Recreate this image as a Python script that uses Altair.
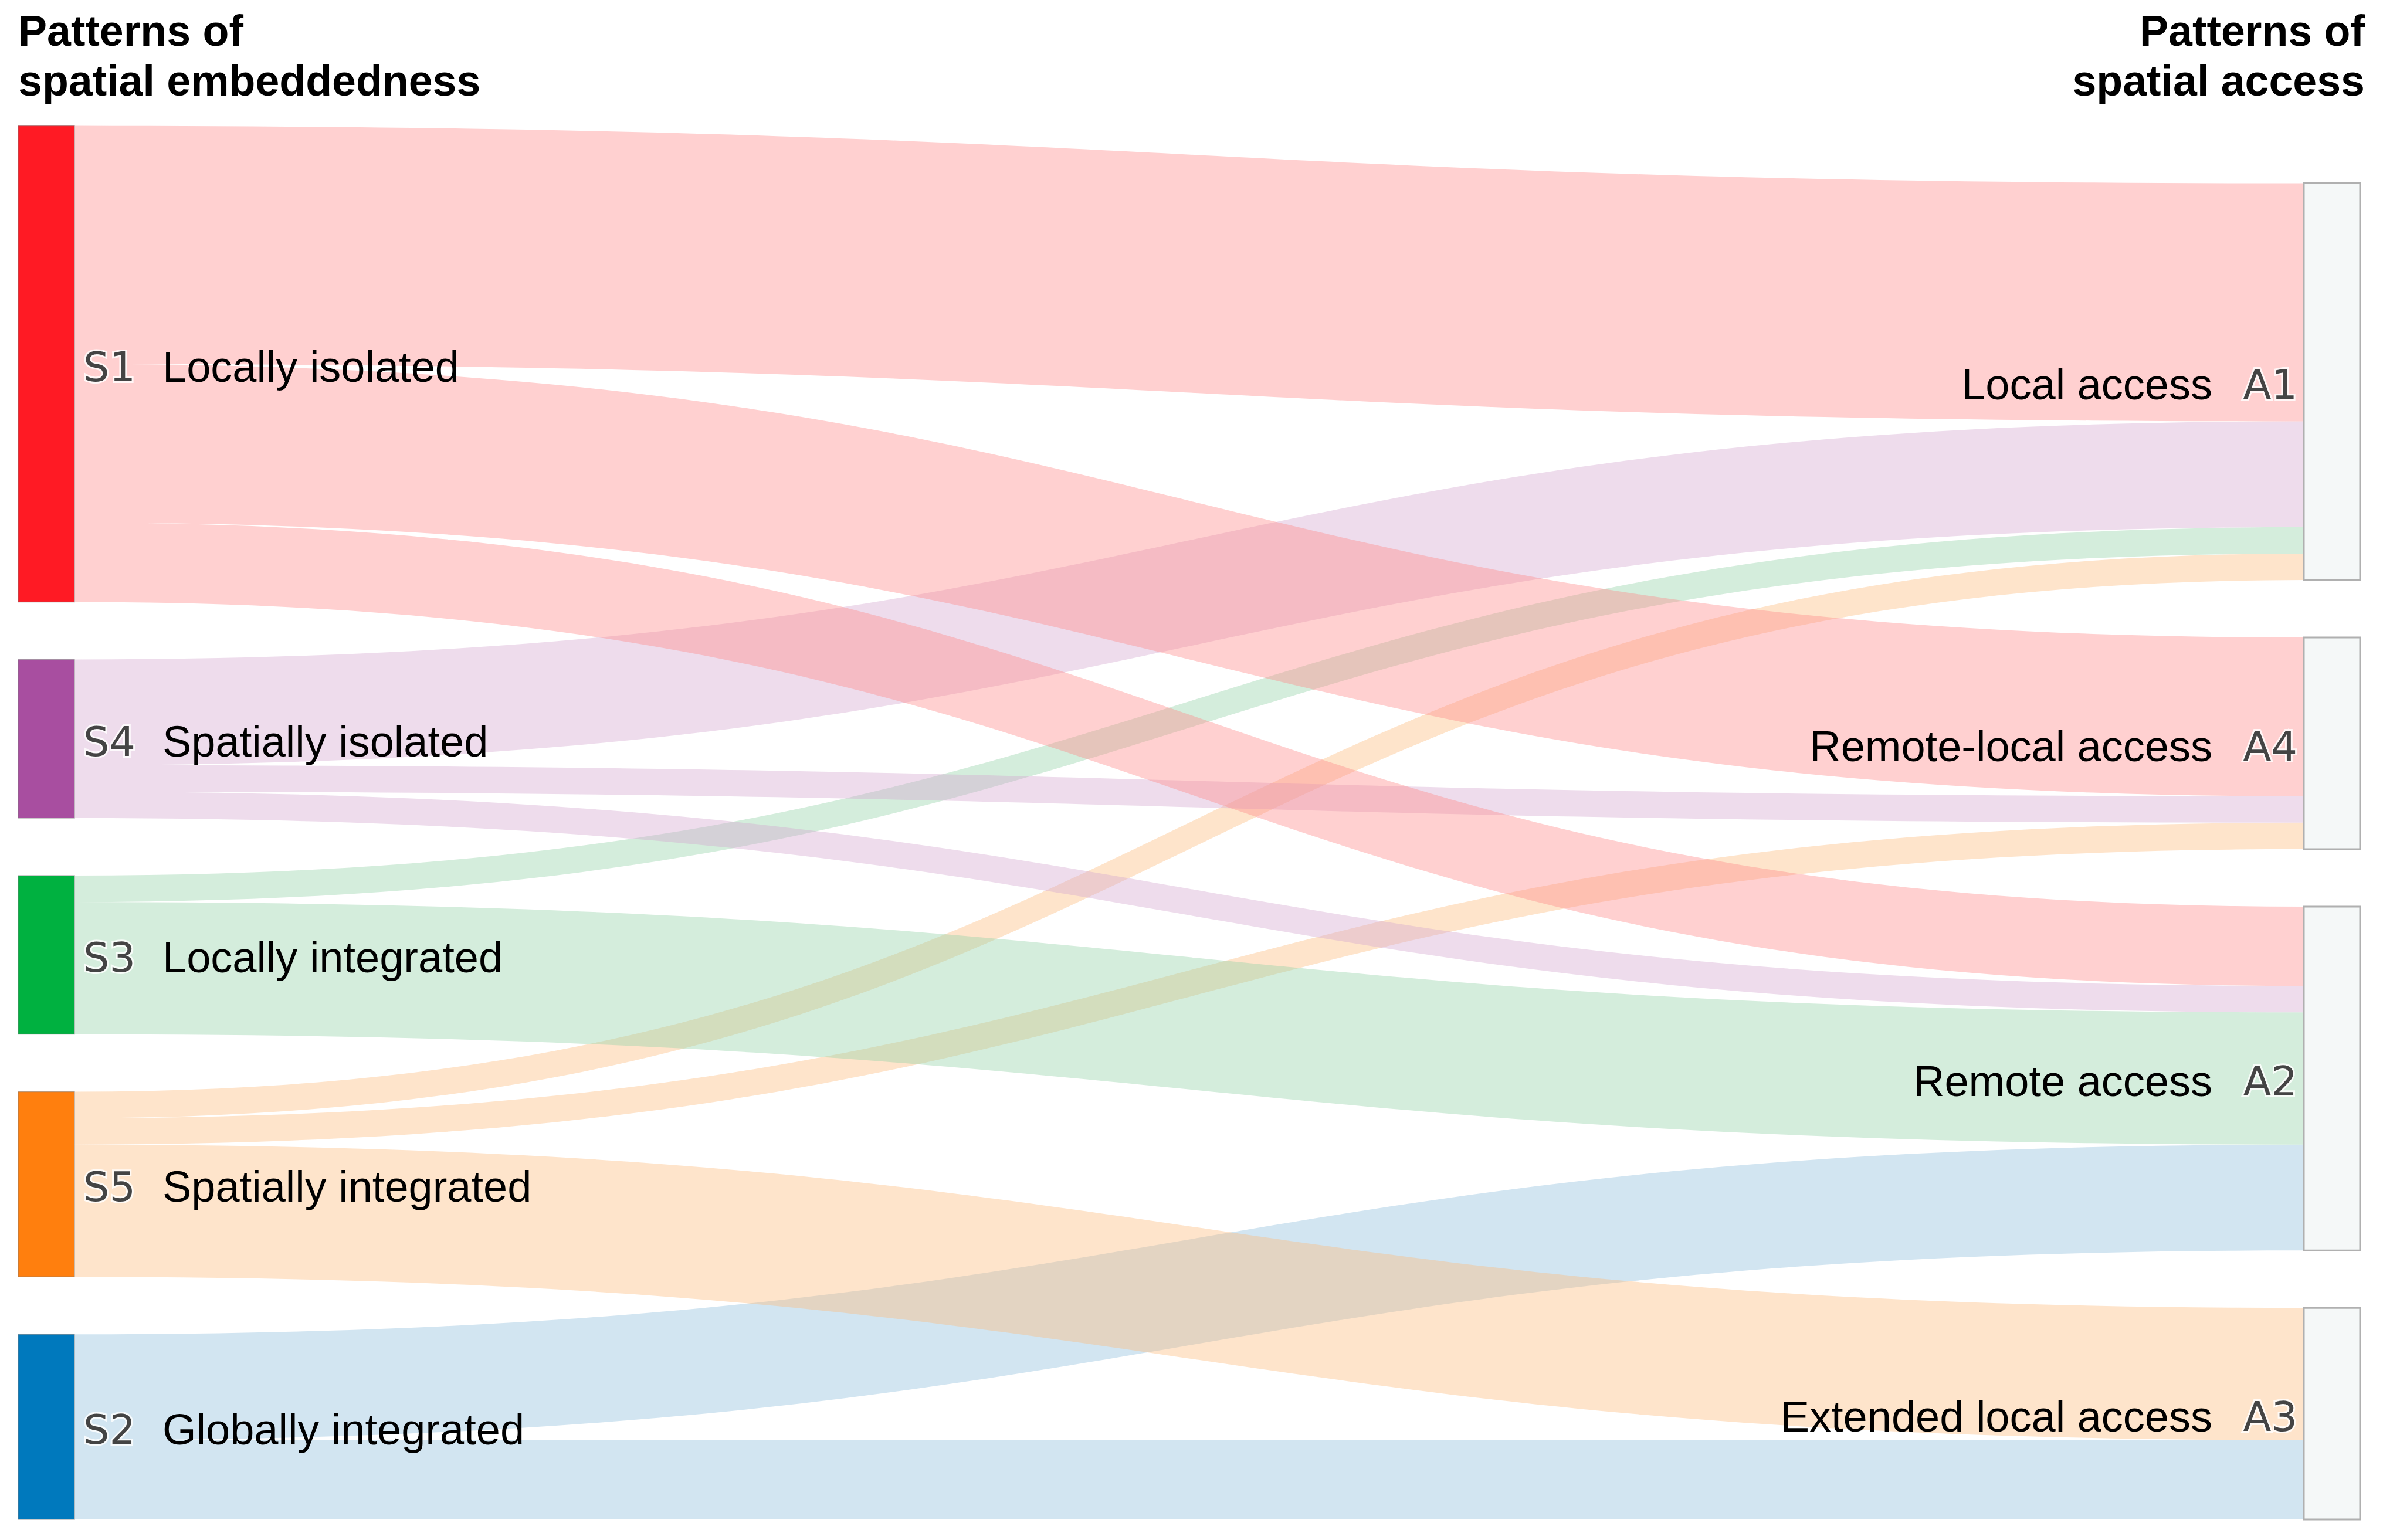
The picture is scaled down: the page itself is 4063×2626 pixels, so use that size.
import altair as alt
import pandas as pd
import numpy as np

# ---------------- data ----------------
sources = ["S1", "S4", "S3", "S5", "S2"]
source_names = ["Locally isolated", "Spatially isolated", "Locally integrated",
                "Spatially integrated", "Globally integrated"]
source_colors = ["#ff1a24", "#a84ea0", "#00b140", "#ff7f0e", "#0079bd"]
link_colors = ["#ff8989", "#d4a7cf", "#94d2a8", "#fcbb7d", "#8ebedc"]

targets = ["A1", "A4", "A2", "A3"]
target_names = ["Local access", "Remote-local access", "Remote access",
                "Extended local access"]

link_source = ["S1", "S1", "S1", "S4", "S4", "S4", "S3", "S3", "S5", "S5", "S5", "S2", "S2"]
link_target = ["A1", "A4", "A2", "A1", "A4", "A2", "A1", "A2", "A1", "A4", "A3", "A2", "A3"]
link_value = [9, 6, 3, 4, 1, 1, 1, 5, 1, 1, 5, 4, 3]

left_title = ["Patterns of", "spatial embeddedness"]
right_title = ["Patterns of", "spatial access"]

# ---------------- layout (pixel space) ----------------
W, H = 4040, 2600
UNIT, GAP, BOTTOM = 45.1, 98.0, 2591.0
LX0, LX1 = 31.0, 127.0
RX0, RX1 = 3928.0, 4024.0

src_tot = {s: sum(v for ls, v in zip(link_source, link_value) if ls == s) for s in sources}
tgt_tot = {t: sum(v for lt, v in zip(link_target, link_value) if lt == t) for t in targets}


def column(nodes, totals):
    top = BOTTOM - (sum(totals[n] for n in nodes) * UNIT + (len(nodes) - 1) * GAP)
    pos, y = {}, top
    for n in nodes:
        pos[n] = (y, y + totals[n] * UNIT)
        y += totals[n] * UNIT + GAP
    return pos


spos = column(sources, src_tot)
tpos = column(targets, tgt_tot)

links = list(zip(link_source, link_target, link_value))
src_off, tgt_off = {}, {}
for s in sources:
    y = spos[s][0]
    for i in sorted([i for i, l in enumerate(links) if l[0] == s], key=lambda i: targets.index(links[i][1])):
        src_off[i] = y
        y += links[i][2] * UNIT
for t in targets:
    y = tpos[t][0]
    for i in sorted([i for i, l in enumerate(links) if l[1] == t], key=lambda i: sources.index(links[i][0])):
        tgt_off[i] = y
        y += links[i][2] * UNIT

xs = alt.Scale(domain=[8, 8 + W], nice=False, zero=False)
ys = alt.Scale(domain=[8, 8 + H], nice=False, zero=False, reverse=True)


def X(f):
    return alt.X(f, type="quantitative", scale=xs, axis=None)


def Y(f):
    return alt.Y(f, type="quantitative", scale=ys, axis=None)


ts = np.linspace(0, 1, 90)
xm = (LX1 + RX0) / 2
band_layers = []
# draw lower sources first so upper sources sit on top
draw_order = sorted(range(len(links)), key=lambda i: -sources.index(links[i][0]))
for i in draw_order:
    s, t, v = links[i]
    y0a, y1a = src_off[i], tgt_off[i]
    th = v * UNIT
    col = link_colors[sources.index(s)]
    rows = []
    for tt in ts:
        a = (1 - tt) ** 3 + 3 * (1 - tt) ** 2 * tt
        b = 3 * (1 - tt) * tt ** 2 + tt ** 3
        x = LX1 * (1 - tt) ** 3 + 3 * xm * (1 - tt) ** 2 * tt + 3 * xm * (1 - tt) * tt ** 2 + RX0 * tt ** 3
        yt = y0a * a + y1a * b
        rows.append({"px": round(float(x), 2), "ya": round(float(yt), 2), "yb": round(float(yt + th), 2)})
    df = pd.DataFrame(rows)
    band_layers.append(
        alt.Chart(df).mark_area(color=col, fillOpacity=0.4, interpolate="linear").encode(
            x=X("px"), y=Y("ya"), y2=alt.Y2("yb"))
    )

node_rows = []
for s, nm, c in zip(sources, source_names, source_colors):
    y0, y1 = spos[s]
    node_rows.append({"code": s, "name": nm, "x0": LX0, "x1": LX1, "y0": y0, "y1": y1,
                      "yc": (y0 + y1) / 2 + 8, "fill": c, "side": "L"})
for t, nm in zip(targets, target_names):
    y0, y1 = tpos[t]
    node_rows.append({"code": t, "name": nm, "x0": RX0, "x1": RX1, "y0": y0, "y1": y1,
                      "yc": (y0 + y1) / 2 + 8, "fill": "#f5f8f8", "side": "R"})
node_df = pd.DataFrame(node_rows)
left_df = node_df[node_df.side == "L"].assign(xc=LX1 + 15, xn=LX1 + 150)
right_df = node_df[node_df.side == "R"].assign(xc=RX0 - 11, xn=RX0 - 156)

lnodes = alt.Chart(node_df[node_df.side == "L"]).mark_rect(
    stroke="#777777", strokeWidth=1.5, strokeOpacity=0.5).encode(
    x=X("x0"), x2="x1", y=Y("y0"), y2="y1", color=alt.Color("fill:N", scale=None))
rnodes = alt.Chart(node_df[node_df.side == "R"]).mark_rect(
    stroke="#b0b0b0", strokeWidth=3).encode(
    x=X("x0"), x2="x1", y=Y("y0"), y2="y1", color=alt.Color("fill:N", scale=None))

code_style = dict(font="DejaVu Sans", fontSize=70, baseline="middle")
name_style = dict(font="Liberation Sans", fontSize=74, baseline="middle", color="#000000")

lcode_halo = alt.Chart(left_df).mark_text(align="left", stroke="white", strokeWidth=6,
                                          strokeOpacity=0.8, color="white", **code_style).encode(
    x=X("xc"), y=Y("yc"), text="code:N")
lcode = alt.Chart(left_df).mark_text(align="left", color="#444444", **code_style).encode(
    x=X("xc"), y=Y("yc"), text="code:N")
lname = alt.Chart(left_df).mark_text(align="left", **name_style).encode(
    x=X("xn"), y=Y("yc"), text="name:N")
rcode_halo = alt.Chart(right_df).mark_text(align="right", stroke="white", strokeWidth=6,
                                           strokeOpacity=0.8, color="white", **code_style).encode(
    x=X("xc"), y=Y("yc"), text="code:N")
rcode = alt.Chart(right_df).mark_text(align="right", color="#444444", **code_style).encode(
    x=X("xc"), y=Y("yc"), text="code:N")
rname = alt.Chart(right_df).mark_text(align="right", **name_style).encode(
    x=X("xn"), y=Y("yc"), text="name:N")

title_df = pd.DataFrame({
    "text": left_title + right_title,
    "x": [31, 31, 4032, 4032],
    "y": [78, 163, 78, 163],
    "side": ["L", "L", "R", "R"],
})
title_style = dict(font="Liberation Sans", fontSize=73.5, fontWeight="bold",
                   baseline="alphabetic", color="#000000")
ltitle = alt.Chart(title_df[title_df.side == "L"]).mark_text(align="left", **title_style).encode(
    x=X("x"), y=Y("y"), text="text:N")
rtitle = alt.Chart(title_df[title_df.side == "R"]).mark_text(align="right", **title_style).encode(
    x=X("x"), y=Y("y"), text="text:N")

chart = alt.layer(*band_layers, lnodes, rnodes, lcode_halo, lcode, lname, rcode_halo, rcode, rname,
                  ltitle, rtitle).properties(
    width=W, height=H, padding=0, autosize=alt.AutoSizeParams(type="none"),
    background="white"
).configure_view(stroke=None)

chart.save("out.html", embed_options={"renderer": "svg", "actions": False})
